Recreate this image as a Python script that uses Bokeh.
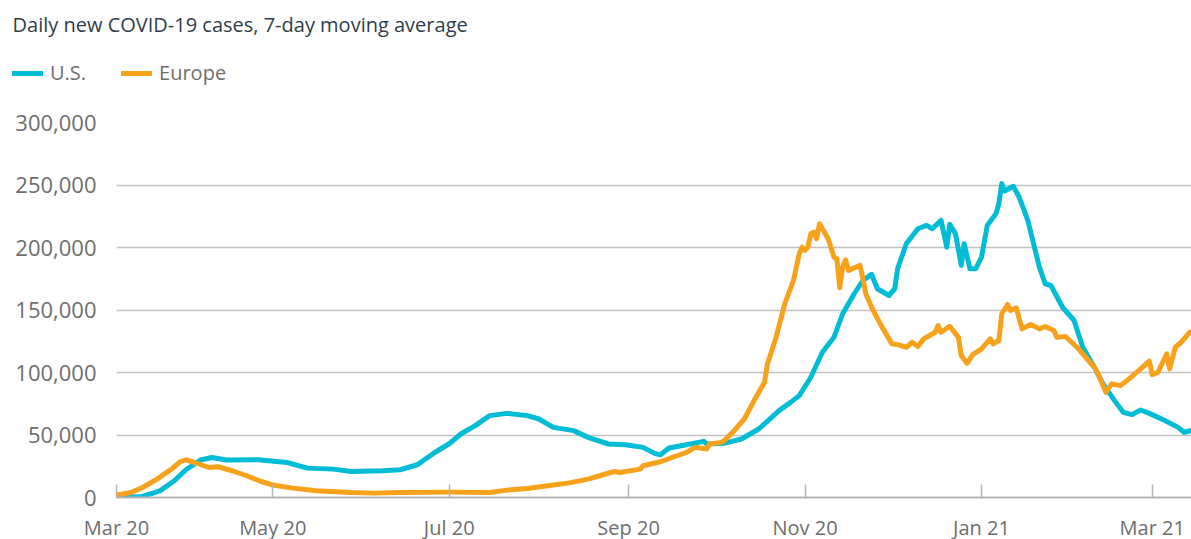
import pandas as pd
from bokeh.plotting import figure
from bokeh.layouts import column
from bokeh.models import Range1d, FixedTicker, DatetimeTickFormatter, NumeralTickFormatter, Label, Legend, LegendItem
from bokeh.embed import file_html
from bokeh.resources import INLINE

title_text = "Daily new COVID-19 cases, 7-day moving average"
series_names = ["U.S.", "Europe"]

us_dates = [
    "2020-03-08", "2020-03-17", "2020-03-23", "2020-03-28", "2020-04-01", "2020-04-06", "2020-04-10",
    "2020-04-15", "2020-04-26", "2020-05-06", "2020-05-13", "2020-05-22", "2020-05-28", "2020-06-08",
    "2020-06-14", "2020-06-20", "2020-06-26", "2020-07-01", "2020-07-05", "2020-07-10", "2020-07-15",
    "2020-07-21", "2020-07-28", "2020-08-01", "2020-08-06", "2020-08-13", "2020-08-18", "2020-08-25",
    "2020-08-31", "2020-09-06", "2020-09-10", "2020-09-12", "2020-09-15", "2020-09-21", "2020-09-27",
    "2020-09-28", "2020-10-04", "2020-10-10", "2020-10-16", "2020-10-23", "2020-10-27", "2020-10-30",
    "2020-11-03", "2020-11-07", "2020-11-11", "2020-11-14", "2020-11-18", "2020-11-21", "2020-11-24",
    "2020-11-26", "2020-11-30", "2020-12-02", "2020-12-03", "2020-12-06", "2020-12-10", "2020-12-13",
    "2020-12-15", "2020-12-18", "2020-12-20", "2020-12-21", "2020-12-23", "2020-12-25", "2020-12-26",
    "2020-12-28", "2020-12-30", "2021-01-01", "2021-01-03", "2021-01-06", "2021-01-07", "2021-01-08",
    "2021-01-09", "2021-01-12", "2021-01-14", "2021-01-17", "2021-01-19", "2021-01-21", "2021-01-23",
    "2021-01-25", "2021-01-29", "2021-02-02", "2021-02-05", "2021-02-09", "2021-02-12", "2021-02-16",
    "2021-02-19", "2021-02-22", "2021-02-25", "2021-02-28", "2021-03-05", "2021-03-10", "2021-03-12",
    "2021-03-14",
]
us_cases = [
    500, 800, 5300, 13400, 22200, 30000, 32000,
    30000, 30200, 28000, 23500, 22700, 20800, 21400,
    22200, 26200, 36000, 43000, 50800, 57500, 65500,
    67300, 65500, 62800, 56100, 53500, 48100, 42800,
    42200, 40100, 35300, 34200, 39600, 42200, 44900,
    42800, 43300, 46800, 54800, 69500, 76100, 81500,
    96200, 116200, 128200, 147000, 163000, 173600, 178500,
    167000, 161600, 167000, 183000, 203000, 215000, 217700,
    215000, 221700, 200300, 218500, 211000, 185700, 203000,
    183000, 183000, 192300, 217700, 227100, 235100, 251100,
    245200, 249000, 240400, 221700, 203000, 184300, 171000,
    169600, 152200, 141600, 120200, 104200, 90900, 77500,
    68100, 66300, 70000, 67300, 62000, 56100, 52100,
    53400,
]

eu_dates = [
    "2020-03-08", "2020-03-13", "2020-03-17", "2020-03-22", "2020-03-27", "2020-03-30", "2020-04-01",
    "2020-04-04", "2020-04-09", "2020-04-12", "2020-04-17", "2020-04-22", "2020-04-27", "2020-05-01",
    "2020-05-08", "2020-05-16", "2020-05-28", "2020-06-05", "2020-06-14", "2020-07-01", "2020-07-15",
    "2020-07-21", "2020-07-28", "2020-08-04", "2020-08-11", "2020-08-18", "2020-08-22", "2020-08-27",
    "2020-08-29", "2020-09-05", "2020-09-06", "2020-09-12", "2020-09-16", "2020-09-21", "2020-09-24",
    "2020-09-28", "2020-09-29", "2020-10-03", "2020-10-04", "2020-10-07", "2020-10-11", "2020-10-15",
    "2020-10-18", "2020-10-19", "2020-10-22", "2020-10-25", "2020-10-28", "2020-10-30", "2020-10-31",
    "2020-11-01", "2020-11-02", "2020-11-03", "2020-11-04", "2020-11-05", "2020-11-06", "2020-11-08",
    "2020-11-09", "2020-11-11", "2020-11-12", "2020-11-13", "2020-11-14", "2020-11-15", "2020-11-16",
    "2020-11-20", "2020-11-21", "2020-11-22", "2020-11-24", "2020-11-27", "2020-11-28", "2020-12-01",
    "2020-12-03", "2020-12-06", "2020-12-08", "2020-12-10", "2020-12-12", "2020-12-16", "2020-12-17",
    "2020-12-18", "2020-12-21", "2020-12-24", "2020-12-25", "2020-12-27", "2020-12-29", "2021-01-01",
    "2021-01-04", "2021-01-05", "2021-01-07", "2021-01-08", "2021-01-10", "2021-01-11", "2021-01-13",
    "2021-01-15", "2021-01-18", "2021-01-21", "2021-01-23", "2021-01-26", "2021-01-27", "2021-01-30",
    "2021-02-03", "2021-02-06", "2021-02-09", "2021-02-10", "2021-02-12", "2021-02-13", "2021-02-15",
    "2021-02-18", "2021-02-21", "2021-02-25", "2021-02-28", "2021-03-01", "2021-03-03", "2021-03-06",
    "2021-03-07", "2021-03-09", "2021-03-11", "2021-03-14",
]
eu_cases = [
    2000, 4000, 8000, 14700, 22700, 28600, 30200,
    28000, 24000, 24600, 21400, 17400, 12800, 10000,
    7500, 5400, 4000, 3500, 4000, 4300, 4000,
    5900, 7200, 9400, 11500, 14700, 17400, 20800,
    20000, 22700, 25400, 28600, 32000, 36000, 40100,
    38800, 42800, 44100, 45400, 52100, 62800, 80100,
    92100, 106900, 128200, 155000, 173600, 195000, 200300,
    197700, 200300, 211000, 212300, 207000, 219000, 211000,
    207000, 192300, 191000, 167800, 184300, 190200, 181700,
    185700, 175000, 163000, 152200, 138900, 134900, 122900,
    122300, 120200, 124200, 120800, 126900, 132200, 137600,
    132200, 137000, 128200, 113500, 107400, 114300, 118900,
    126900, 122900, 125600, 147000, 154400, 149600, 151800,
    134900, 138400, 134900, 136800, 133600, 128200, 128800,
    120200, 112200, 104200, 100200, 89500, 84100, 90900,
    89500, 94900, 102900, 109000, 98300, 100200, 114900,
    102900, 120200, 124200, 132200,
]

tick_dates = ["2020-03-08", "2020-05-01", "2020-07-01", "2020-09-01", "2020-11-01", "2021-01-01", "2021-03-01"]
y_ticks = [0, 50000, 100000, 150000, 200000, 250000, 300000]

US_COLOR = "#00BCD6"
EU_COLOR = "#F8A21C"
FONT = "Open Sans"
LABEL_GRAY = "#6e6e6e"
LINE_W = 5

us_x = pd.to_datetime(us_dates)
eu_x = pd.to_datetime(eu_dates)

# ---------------- header (title + legend) ----------------
HEADER_H = 100
header = figure(width=1191, height=HEADER_H, x_range=Range1d(0, 1), y_range=Range1d(0, 1),
                x_axis_location=None, y_axis_location=None,
                output_backend="svg", toolbar_location=None,
                min_border_left=0, min_border_right=0, min_border_top=0, min_border_bottom=0)
header.frame_align = False
header.grid.visible = False
header.outline_line_color = None
header.border_fill_color = "white"

header.add_layout(Label(x=12, y=HEADER_H - 24, x_units="screen", y_units="screen", text=title_text,
                        text_font=FONT, text_font_size="20px", text_color="#2f3e4c",
                        text_baseline="middle"))

# legend keys: same series styles (their data lies outside this header's ranges, so only the keys show)
h_us = header.line(us_x, us_cases, line_color=US_COLOR, line_width=LINE_W, line_cap="round")
h_eu = header.line(eu_x, eu_cases, line_color=EU_COLOR, line_width=LINE_W, line_cap="round")
legend = Legend(items=[LegendItem(label=series_names[0], renderers=[h_us]),
                       LegendItem(label=series_names[1], renderers=[h_eu])],
                orientation="horizontal", location=(12, HEADER_H - 74 - 12),
                label_text_font=FONT, label_text_font_size="20px", label_text_color=LABEL_GRAY,
                glyph_width=31, glyph_height=24, label_height=24, label_standoff=7, spacing=35,
                padding=0, margin=0, border_line_color=None, background_fill_alpha=0)
header.add_layout(legend)

# ---------------- main chart ----------------
x_start = pd.Timestamp("2020-03-08")
x_end = pd.Timestamp("2021-03-14 14:00")

p = figure(
    frame_width=1075, frame_height=375,
    x_axis_type="datetime",
    x_range=Range1d(x_start, x_end), y_range=Range1d(0, 300000),
    output_backend="svg", toolbar_location=None,
    min_border_left=116, min_border_right=0, min_border_top=122 - HEADER_H, min_border_bottom=20,
)
p.frame_align = False
p.outline_line_color = None
p.background_fill_color = "white"
p.border_fill_color = "white"

p.line(us_x, us_cases, line_color=US_COLOR, line_width=LINE_W, line_join="round", line_cap="round")
p.line(eu_x, eu_cases, line_color=EU_COLOR, line_width=LINE_W, line_join="round", line_cap="round")

p.xgrid.grid_line_color = None
p.ygrid.ticker = FixedTicker(ticks=y_ticks)
p.ygrid.grid_line_color = "#c2c2c2"
p.ygrid.grid_line_width = 1.5

p.yaxis.ticker = FixedTicker(ticks=y_ticks)
p.yaxis.formatter = NumeralTickFormatter(format="0,0")
p.yaxis.axis_line_color = None
p.yaxis.major_tick_line_color = None
p.yaxis.minor_tick_line_color = None
p.yaxis.major_label_standoff = 14
p.yaxis.major_label_text_font = FONT
p.yaxis.major_label_text_font_size = "22px"
p.yaxis.major_label_text_color = LABEL_GRAY

p.xaxis.ticker = FixedTicker(ticks=[pd.Timestamp(d).value / 1e6 for d in tick_dates])
p.xaxis.formatter = DatetimeTickFormatter(days="%b %y", months="%b %y", years="%b %y")
p.xaxis.axis_line_color = "#b5b5b5"
p.xaxis.axis_line_width = 2
p.xaxis.major_tick_line_color = "#b5b5b5"
p.xaxis.major_tick_line_width = 1.5
p.xaxis.major_tick_in = 13
p.xaxis.major_tick_out = 0
p.xaxis.minor_tick_line_color = None
p.xaxis.major_label_standoff = 16
p.xaxis.major_label_text_font = FONT
p.xaxis.major_label_text_font_size = "20px"
p.xaxis.major_label_text_color = LABEL_GRAY

layout = column(header, p, spacing=0)

html = file_html(layout, INLINE)
html = html.replace("<head>", "<head><style>html,body{margin:0;overflow:hidden;}</style>", 1)
open("out.html", "w").write(html)
